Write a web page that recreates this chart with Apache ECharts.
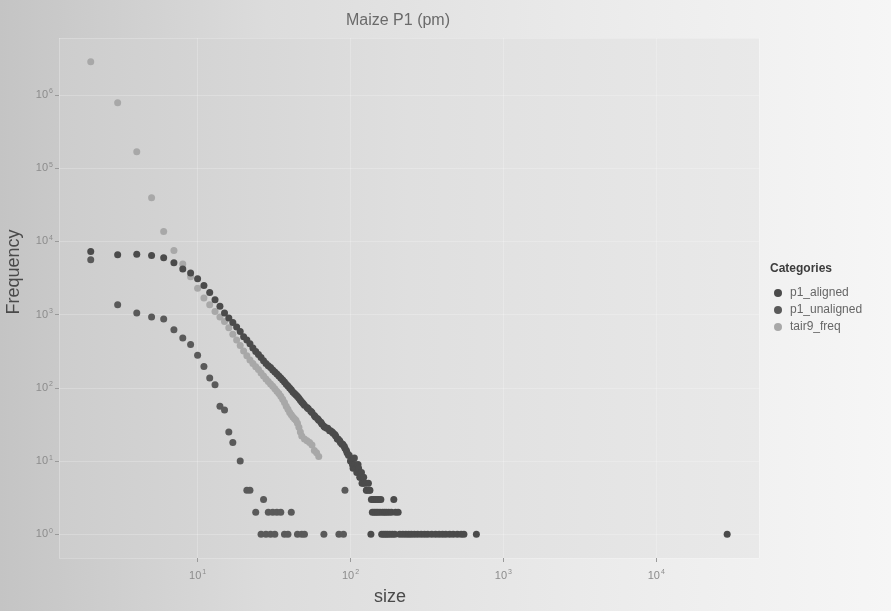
<!DOCTYPE html>
<html>
<head>
<meta charset="utf-8">
<title>Maize P1</title>
<script src="https://cdn.jsdelivr.net/npm/echarts@6/dist/echarts.min.js"></script>
<style>
    html, body { margin: 0; padding: 0; background: #ececec; }
    #sizechart { width: 891px; height: 611px; }
</style>
</head>
<body>
<div id="sizechart"></div>
<script>
// categories (legend order)
var categories = ["p1_aligned", "p1_unaligned", "tair9_freq"];

// [size, frequency]
var alignedPoints = [
    [2,7300],[3,6600],[4,6700],[5,6400],[6,6000],[7,5100],[8,4200],[9,3700],[10,3100],
    [11,2500],[12,2000],[13,1600],[14,1300],[15,1050],[16,900],[17,780],[18,680],[19,590],
    [20,500],[21,450],[22,400],[23,350],[24,315],[25,285],[26,260],[27,235],[28,215],[29,200],
    [30,190],[31,175],[32,165],[33,155],[34,145],[35,136],[36,128],[37,120],[38,112],[39,106],
    [40,100],[41,94],[42,88],[43,84],[44,80],[45,76],[46,72],[47,68],[48,64],[49,61],[50,58],
    [52,54],[53,52],[55,48],[56,46],[58,42],[59,40],[61,38],[62,36],[64,34],[65,32],[67,30],
    [68,29],[70,28],[71,28],[73,26],[74,26],[76,25],[77,24],[79,23],[80,22],[82,20],[83,20],
    [85,19],[86,18],[88,17],[89,17],[91,16],[92,15],[94,14],[95,13],[97,12],[98,12],[100,10],
    [101,10],[103,9],[104,8],[106,11],[107,9],[109,8],[110,7],[112,9],[113,8],[115,6],[116,6],
    [118,7],[119,5],[121,5],[122,6],[125,5],[127,4],[128,4],[131,5],[133,4],[134,4],
    [137,3],[141,3],[145,3],[149,3],[153,3],[158,3],[192,3],
    [139,2],[143,2],[147,2],[151,2],[156,2],[162,2],[167,2],[172,2],[178,2],[185,2],[197,2],[205,2],
    [136,1],[160,1],[165,1],[170,1],[175,1],[181,1],[188,1],[195,1],[210,1],[220,1],[230,1],
    [240,1],[250,1],[262,1],[275,1],[290,1],[305,1],[320,1],[340,1],[360,1],[380,1],[400,1],
    [420,1],[445,1],[470,1],[500,1],[530,1],[552,1],[666,1],[29100,1]
];

var unalignedPoints = [
    [2,5600],[3,1370],[4,1050],[5,930],[6,870],[7,620],[8,480],[9,390],[10,280],[11,196],
    [12,136],[13,110],[14,56],[15,50],[16,25],[17,18],[19,10],[21,4],[22,4],[24,2],[26,1],
    [27,3],[28,1],[29,2],[30,1],[31,2],[32,1],[33,2],[35,2],[37,1],[39,1],[41,2],[45,1],
    [48,1],[50,1],[67,1],[84,1],[90,1],[92,4]
];

var tairPoints = [
    [2,2850000],[3,785000],[4,168000],[5,39500],[6,13700],[7,7500],[8,4900],[9,3300],[10,2300],
    [11,1690],[12,1365],[13,1100],[14,930],[15,808],[16,660],[17,540],[18,450],[19,380],[20,320],
    [21,275],[22,240],[23,215],[24,195],[25,178],[26,160],[27,145],[28,132],[29,122],[30,113],
    [31,105],[32,97],[33,90],[34,84],[35,77],[36,70],[37,63],[38,56],[39,51],[40,46],[41,43],
    [42,40],[43,38],[44,36],[45,33],[46,29],[47,25],[48,22],[50,20],[52,19],[54,18],[56,16.6],
    [58,14],[60,13],[62,11.6]
];

// decades shown on the axes
var xTickExps = [1, 2, 3, 4];
var yTickExps = [0, 1, 2, 3, 4, 5, 6];

var sizeChart;
window.onload = function () {
    drawChart();
};

function powLabel(exps) {
    return function (value) {
        var e = Math.round(Math.log(value) / Math.LN10);
        if (exps.indexOf(e) < 0 || Math.abs(Math.log(value) / Math.LN10 - e) > 0.01) {
            return "";
        }
        return "{b|10}{s|" + e + "}";
    };
}

var labelRich = {
    b: { fontSize: 11, color: "#8c8c8c", fontFamily: "Liberation Sans" },
    s: { fontSize: 7, color: "#8c8c8c", fontFamily: "Liberation Sans", verticalAlign: "top", padding: [0, 0, 7, 1] }
};

function drawChart() {
    sizeChart = echarts.init(document.getElementById("sizechart"));
    var option = {
        backgroundColor: {
            type: "linear", x: 0, y: 0, x2: 1, y2: 0,
            colorStops: [
                { offset: 0, color: "#c4c4c4" },
                { offset: 0.3, color: "#dcdcdc" },
                { offset: 0.7, color: "#ececec" },
                { offset: 1, color: "#f6f6f6" }
            ]
        },
        animation: false,
        title: {
            text: "Maize P1 (pm)",
            left: 393,
            top: 8,
            textAlign: "center",
            textStyle: { fontSize: 16, fontWeight: "normal", color: "#6a6a6a", fontFamily: "Liberation Sans" }
        },
        graphic: [
            {
                type: "text", left: 770, top: 263,
                style: { text: "Categories", fontSize: 12, fontWeight: "bold", fill: "#3c3c3c", fontFamily: "Liberation Sans" }
            },
            {
                type: "text", x: 390, y: 597,
                style: { text: "size", fontSize: 18, fill: "#4a4a4a", fontFamily: "Liberation Sans", align: "center", verticalAlign: "middle" }
            },
            {
                type: "text", x: 14, y: 272, rotation: Math.PI / 2,
                style: { text: "Frequency", fontSize: 18, fill: "#4a4a4a", fontFamily: "Liberation Sans", align: "center", verticalAlign: "middle" }
            }
        ],
        legend: {
            data: categories,
            orient: "vertical",
            left: 769,
            top: 282,
            itemGap: 5,
            itemWidth: 8,
            itemHeight: 8,
            icon: "circle",
            textStyle: { fontSize: 12, color: "#666", fontFamily: "Liberation Sans", padding: [0, 0, 0, 3] }
        },
        grid: {
            left: 59,
            right: 132,
            top: 38,
            bottom: 53,
            show: true,
            borderWidth: 0,
            backgroundColor: {
                type: "linear", x: 0, y: 0, x2: 1, y2: 0,
                colorStops: [
                    { offset: 0, color: "#cdcdcd" },
                    { offset: 0.5, color: "#dfdfdf" },
                    { offset: 1, color: "#e9e9e9" }
                ]
            }
        },
        xAxis: {
            type: "log",
            logBase: 10,
            min: 1.24,
            max: 47000,
            splitNumber: 5,
            axisLine: { show: false },
            axisTick: { show: true, length: 4, lineStyle: { color: "#9a9a9a" } },
            axisLabel: { formatter: powLabel(xTickExps), rich: labelRich, margin: 11, showMinLabel: false, showMaxLabel: false },
            splitLine: { show: true, lineStyle: { color: "rgba(255,255,255,0.22)", width: 1 } }
        },
        yAxis: {
            type: "log",
            logBase: 10,
            min: 0.475,
            max: 6000000,
            splitNumber: 7,
            axisLine: { show: false },
            axisTick: { show: true, length: 4, lineStyle: { color: "#9a9a9a" } },
            axisLabel: { formatter: powLabel(yTickExps), rich: labelRich, margin: 6, showMinLabel: false, showMaxLabel: false },
            splitLine: { show: true, lineStyle: { color: "rgba(255,255,255,0.22)", width: 1 } }
        },
        series: [
            {
                name: "tair9_freq",
                type: "scatter",
                symbolSize: 7,
                itemStyle: { color: "#a8a8a8", opacity: 1 },
                data: tairPoints,
                z: 2
            },
            {
                name: "p1_aligned",
                type: "scatter",
                symbolSize: 7,
                itemStyle: { color: "#4b4b4b", opacity: 1 },
                data: alignedPoints,
                z: 3
            },
            {
                name: "p1_unaligned",
                type: "scatter",
                symbolSize: 7,
                itemStyle: { color: "#5a5a5a", opacity: 1 },
                data: unalignedPoints,
                z: 4
            }
        ]
    };
    sizeChart.setOption(option);
}
</script>
</body>
</html>
